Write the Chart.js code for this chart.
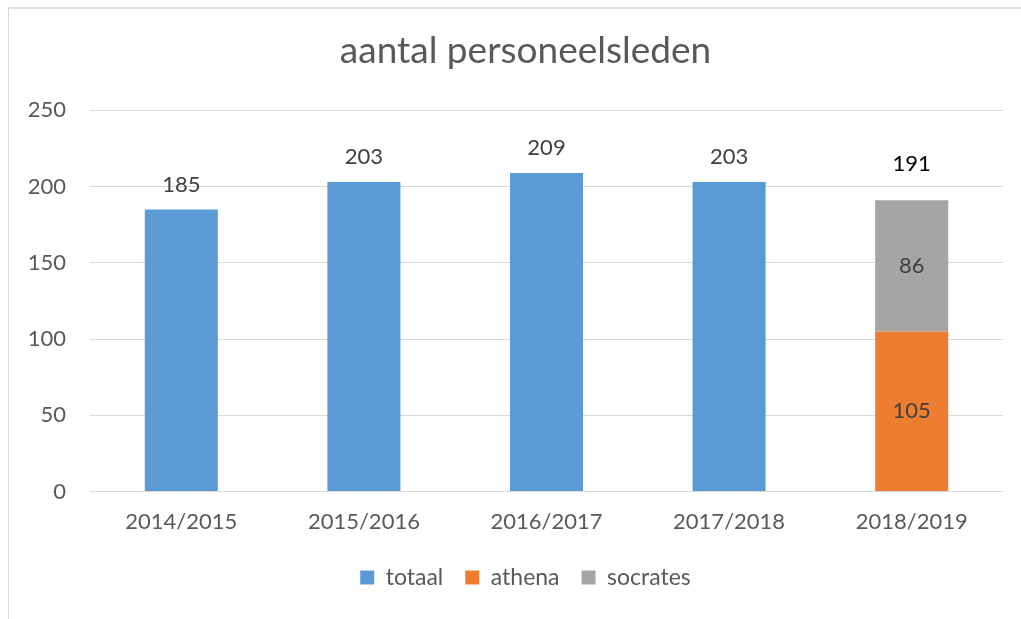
<!DOCTYPE html>
<html>
<head>
<meta charset="utf-8">
<script src="https://cdn.jsdelivr.net/npm/chart.js@4/dist/chart.umd.min.js"></script>
<style>
  html, body { margin: 0; padding: 0; background: #fff; }
  #wrap { position: relative; width: 1021px; height: 619px; }
  #frame { position: absolute; left: 8px; top: 7px; right: 0; bottom: 0;
           border-left: 1px solid #d9d9d9; border-top: 2px solid #e3e3e3; }
  canvas { position: absolute; left: 0; top: 0; }
</style>
</head>
<body>
<div id="wrap">
  <div id="frame"></div>
  <canvas id="chart" width="1021" height="619"></canvas>
</div>
<script>
var categories = ['2014/2015', '2015/2016', '2016/2017', '2017/2018', '2018/2019'];
var totaal = [185, 203, 209, 203, null];
var athena = [null, null, null, null, 105];
var socrates = [null, null, null, null, 86];
var yTicks = [0, 50, 100, 150, 200, 250];

var font = "Lato, 'Open Sans', sans-serif";

// draws the values on the bars, plus the stacked total above the last bar
var barLabels = {
    id: 'barLabels',
    afterDatasetsDraw: function (chart) {
        var ctx = chart.ctx;
        ctx.save();
        ctx.textAlign = 'center';
        ctx.textBaseline = 'middle';
        ctx.font = '22px ' + font;
        chart.data.datasets.forEach(function (ds, di) {
            var meta = chart.getDatasetMeta(di);
            meta.data.forEach(function (bar, i) {
                var v = ds.data[i];
                if (v == null) return;
                ctx.fillStyle = '#404040';
                if (di === 0) {
                    ctx.fillText(v, bar.x, bar.y - 25);
                } else {
                    ctx.fillText(v, bar.x, (bar.y + bar.base) / 2);
                }
            });
        });
        // total of the stacked bar
        var top = chart.getDatasetMeta(2).data;
        categories.forEach(function (c, i) {
            if (athena[i] == null) return;
            var sum = athena[i] + socrates[i];
            ctx.fillStyle = '#000';
            ctx.fillText(sum, top[i].x, top[i].y - 36);
        });
        ctx.restore();
    }
};

// left padding only shifts title + legend; let the y labels use that space too
var widenYAxis = {
    id: 'widenYAxis',
    afterLayout: function (chart) {
        var y = chart.scales.y;
        y.left = 0;
        y.width = y.right;
    }
};

new Chart(document.getElementById('chart').getContext('2d'), {
    type: 'bar',
    data: {
        labels: categories,
        datasets: [{
            label: 'totaal',
            backgroundColor: '#5B9BD5',
            data: totaal
        }, {
            label: 'athena',
            backgroundColor: '#ED7D31',
            data: athena
        }, {
            label: 'socrates',
            backgroundColor: '#A5A5A5',
            data: socrates
        }]
    },
    plugins: [barLabels, widenYAxis],
    options: {
        responsive: false,
        animation: false,
        layout: {
            padding: { top: 29, right: 18, bottom: 20, left: 48 }
        },
        datasets: {
            bar: { categoryPercentage: 0.4, barPercentage: 1.0 }
        },
        plugins: {
            title: {
                display: true,
                text: 'aantal personeelsleden',
                color: '#595959',
                font: { family: font, size: 37, weight: 'normal' },
                padding: { top: 0, bottom: 37 }
            },
            legend: {
                position: 'bottom',
                labels: {
                    color: '#595959',
                    font: { family: font, size: 23 },
                    boxWidth: 14,
                    boxHeight: 14,
                    padding: 22
                }
            },
            tooltip: { enabled: false }
        },
        scales: {
            x: {
                stacked: true,
                grid: { display: false },
                border: { display: false },
                ticks: {
                    color: '#595959',
                    font: { family: font, size: 22 },
                    padding: 9
                }
            },
            y: {
                stacked: true,
                min: 0,
                max: 250,
                afterFit: function (scale) { scale.width = 42; },
                afterBuildTicks: function (scale) {
                    scale.ticks = yTicks.map(function (v) { return { value: v }; });
                },
                grid: { color: '#d9d9d9', lineWidth: 1, drawTicks: false },
                border: { display: false },
                ticks: {
                    color: '#595959',
                    font: { family: font, size: 22 },
                    padding: 24
                }
            }
        }
    }
});
</script>
</body>
</html>
